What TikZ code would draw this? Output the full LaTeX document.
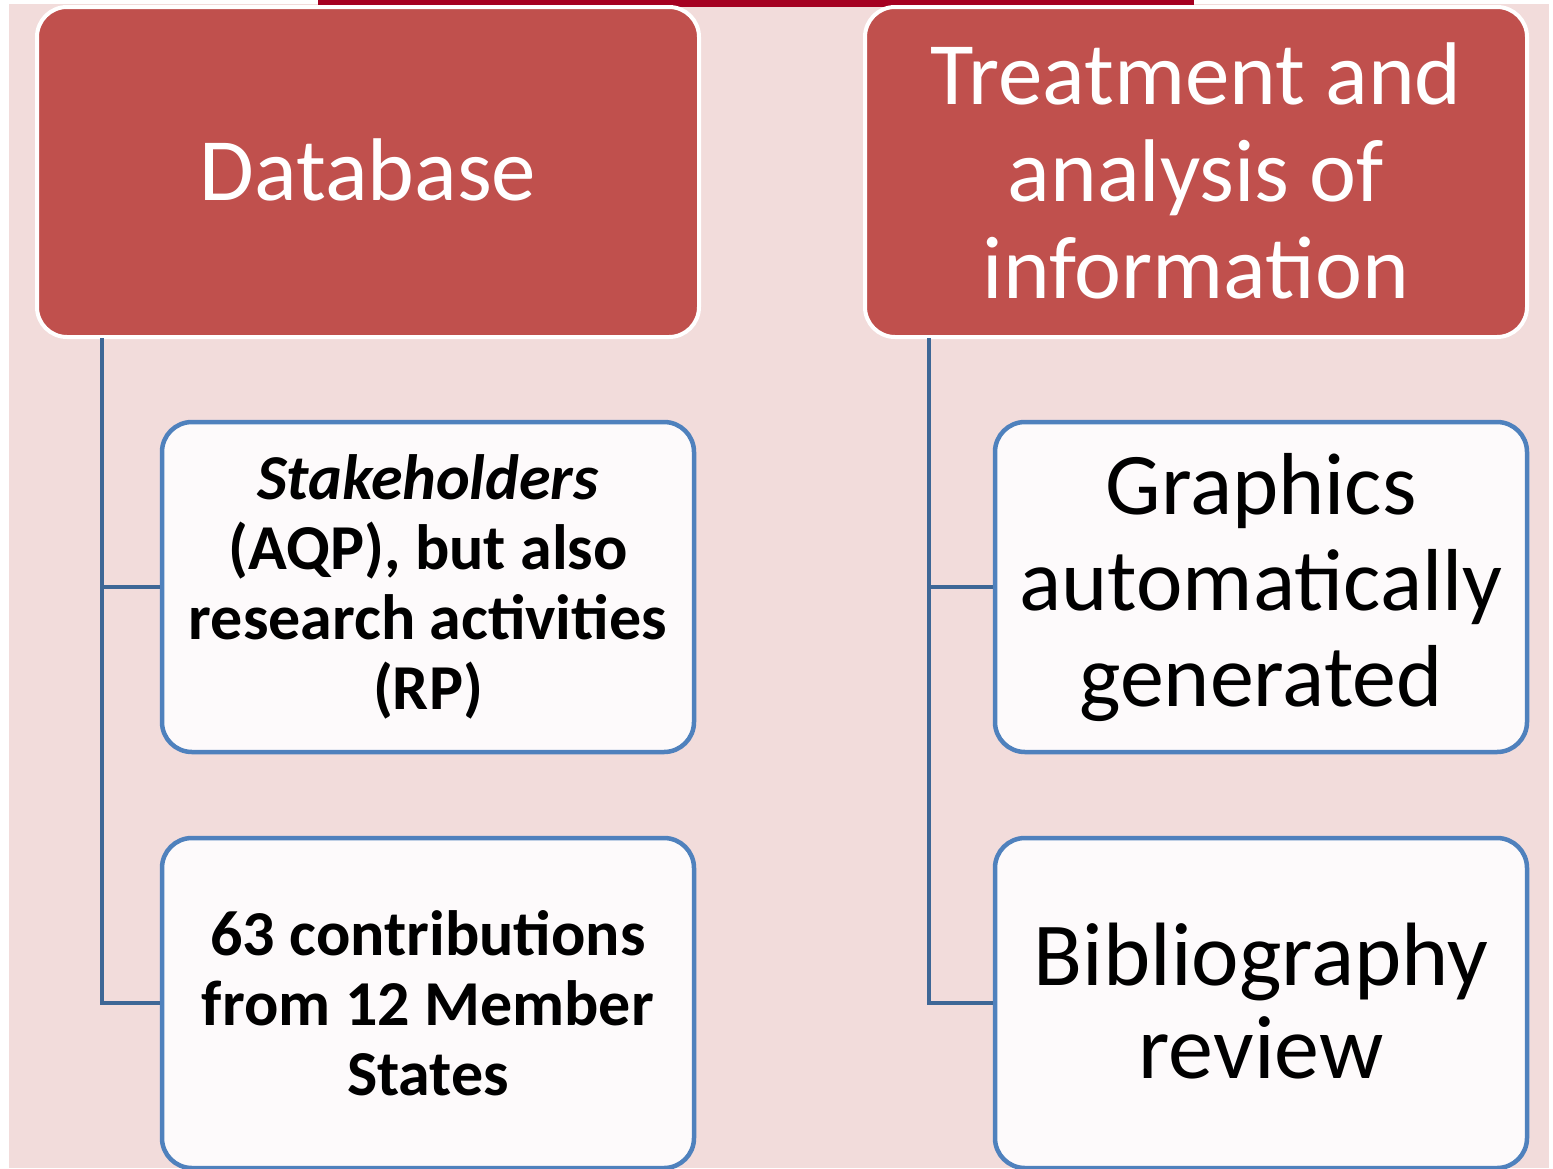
\documentclass[tikz,border=0pt]{standalone}
\usepackage{fontspec}
\setmainfont{Carlito}
\definecolor{bgpink}{HTML}{F2DCDB}
\definecolor{barred}{HTML}{A50021}
\definecolor{headred}{HTML}{C0504D}
\definecolor{subblue}{HTML}{4F81BD}
\definecolor{subfill}{HTML}{FDFAFB}
\definecolor{linkblue}{HTML}{3E6796}
\begin{document}
\begin{tikzpicture}[x=1pt,y=-1pt,
    head/.style={draw=white, line width=4pt, fill=headred, rounded corners=30pt,
      minimum width=662pt, minimum height=330pt, text=white, align=center,
      font=\fontsize{89}{97}\selectfont},
    sub/.style={draw=subblue, line width=4.5pt, fill=subfill, rounded corners=30pt,
      minimum width=532pt, minimum height=330pt, align=center},
    link/.style={draw=linkblue, line width=4pt}]
        \useasboundingbox (0,0) rectangle (1553,1168);
        \clip (0,0) rectangle (1553,1168);
        \fill[bgpink] (9,4) rectangle (1549,1168);
        \fill[barred] (318,0) rectangle (1194,7);
        \node[head] (db) at (368,172) {\raisebox{4pt}{Database}};
        \node[head] (treat) at (1196,172) {\raisebox{3pt}{Treatment and}\\\raisebox{3pt}{analysis of}\\\raisebox{3pt}{information}};
        \node[sub, font=\bfseries\fontsize{64}{70}\selectfont] (stake) at (428,587) {\textit{Stakeholders}\\(AQP), but also\\research activities\\(RP)};
        \node[sub, font=\bfseries\fontsize{64}{70}\selectfont] (contrib) at (428,1003) {63 contributions\\from 12 Member\\States};
        \node[sub, font=\fontsize{88}{96}\selectfont] (graph) at (1261,587) {Graphics\\automatically\\generated};
        \node[sub, font=\fontsize{90}{93}\selectfont] (biblio) at (1261,1003) {\raisebox{4pt}{Bibliography}\\\raisebox{4pt}{review}};
        \coordinate (dbleg) at (102,338);
        \coordinate (treatleg) at (929,338);
        \draw[link] (dbleg) |- (stake.west);
        \draw[link] (dbleg) |- (contrib.west);
        \draw[link] (treatleg) |- (graph.west);
        \draw[link] (treatleg) |- (biblio.west);
      \end{tikzpicture}
\end{document}
